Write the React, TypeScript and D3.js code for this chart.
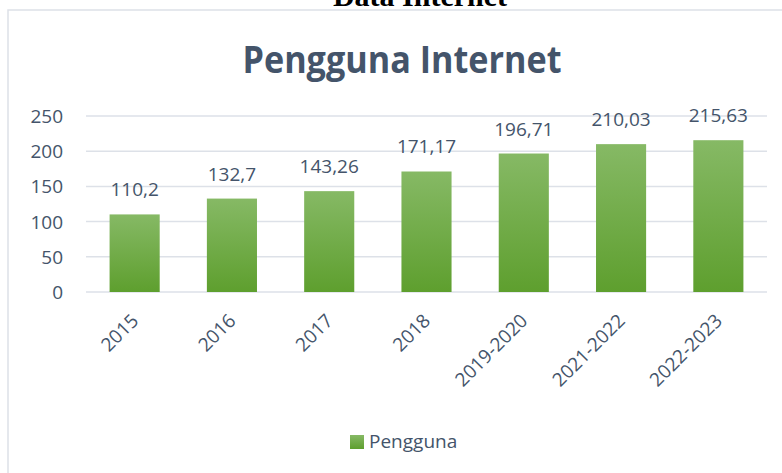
import React from "react";
import * as d3 from "d3";

const categories = ["2015", "2016", "2017", "2018", "2019-2020", "2021-2022", "2022-2023"];
const values = [110.2, 132.7, 143.26, 171.17, 196.71, 210.03, 215.63];
const valueLabels = ["110,2", "132,7", "143,26", "171,17", "196,71", "210,03", "215,63"];
const yTicks = [0, 50, 100, 150, 200, 250];
const seriesName = "Pengguna";
const title = "Pengguna Internet";

const W = 782;
const H = 473;
const TEXT = "#44546a";
const FONT = "'Open Sans', 'Noto Sans', sans-serif";

export default function App() {
  const x = d3.scaleBand<string>().domain(categories).range([86, 767]).paddingInner(0.485).paddingOuter(0.2425);
  const y = d3.scaleLinear().domain([0, 250]).range([292, 116]);

  return (
    <svg width={W} height={H} style={{ position: "absolute", left: 0, top: 0, background: "#fff" }} fontFamily={FONT}>
      <defs>
        <linearGradient id="barGrad" x1="0" y1="0" x2="0" y2="1">
          <stop offset="0%" stopColor="#86b965" />
          <stop offset="100%" stopColor="#5e9f2e" />
        </linearGradient>
      </defs>
      <rect x={0} y={0} width={W} height={H} fill="#fff" />
      <text x={420} y={6} textAnchor="middle" fontFamily="'Liberation Serif', serif" fontWeight="bold" fontSize={30} fill="#000">
        Data Internet
      </text>
      <rect x={8} y={10} width={820} height={520} fill="#fff" stroke="#dde1e8" strokeWidth={1.5} />
      <text x={402} y={73} textAnchor="middle" fontSize={37} fontWeight="bold" fill={TEXT} textLength={319} lengthAdjust="spacingAndGlyphs">
        {title}
      </text>
      {yTicks.map((t) => (
        <g key={t}>
          <line x1={86} x2={767} y1={y(t)} y2={y(t)} stroke="#dde1e8" strokeWidth={1.5} />
          <text x={63} y={y(t) + 7} textAnchor="end" fontSize={19} fill={TEXT}>
            {t}
          </text>
        </g>
      ))}
      {categories.map((c, i) => {
        const bx = x(c)!;
        const bw = x.bandwidth();
        const top = y(values[i]);
        const cx = bx + bw / 2;
        return (
          <g key={c}>
            <rect x={bx} y={top} width={bw} height={y(0) - top} fill="url(#barGrad)" />
            <text x={cx} y={top - 18} textAnchor="middle" fontSize={19} fill={TEXT}>
              {valueLabels[i]}
            </text>
            <text transform={`translate(${cx + 5},${322}) rotate(-45)`} textAnchor="end" fontSize={19} fill={TEXT}>
              {c}
            </text>
          </g>
        );
      })}
      <rect x={350} y={435} width={14} height={14} fill="url(#barGrad)" />
      <text x={369} y={448} fontSize={19} fill={TEXT}>
        {seriesName}
      </text>
    </svg>
  );
}
